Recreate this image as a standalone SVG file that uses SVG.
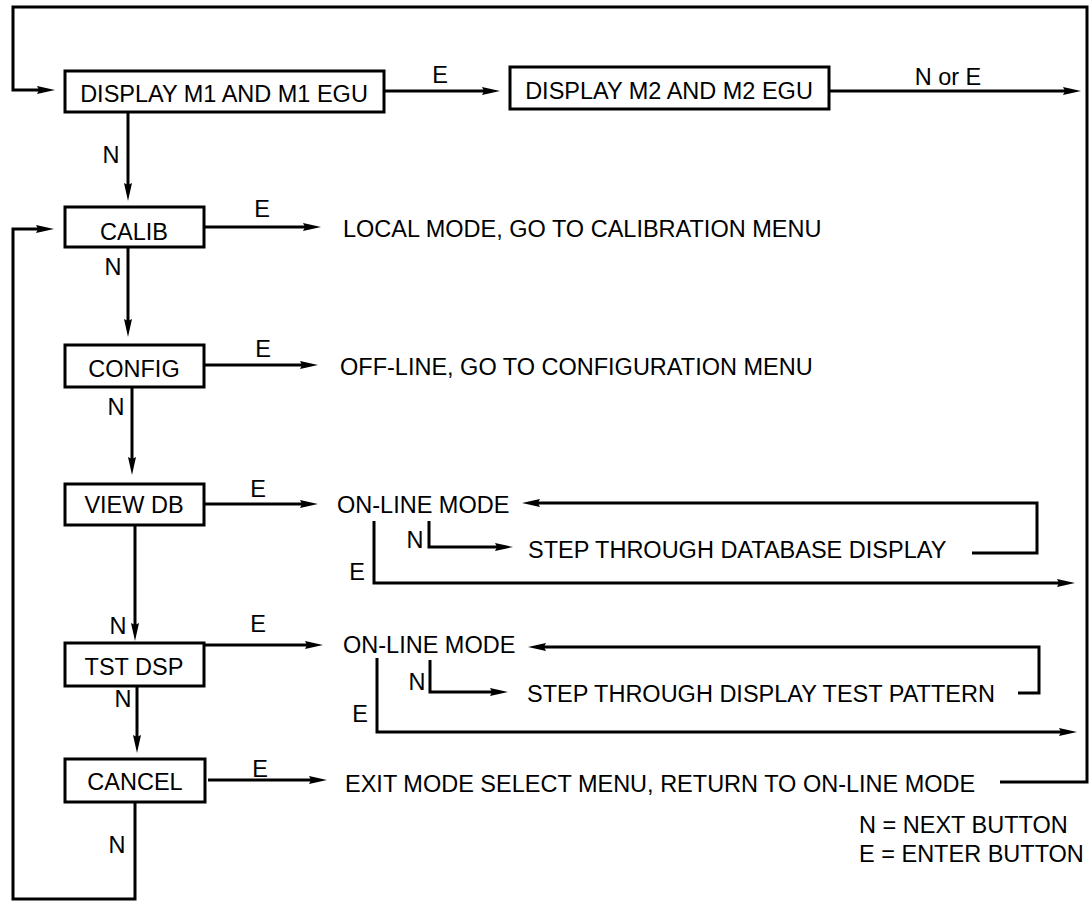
<svg xmlns="http://www.w3.org/2000/svg" width="1091" height="903" viewBox="0 0 1091 903">
<style>
text{font-family:"Liberation Sans",Arial,sans-serif;font-size:23.5px;fill:#000}
.m{text-anchor:middle}
.box{fill:#fff;stroke:#000;stroke-width:3}
.c{fill:none;stroke:#000;stroke-width:3;stroke-linejoin:miter}
.a{marker-end:url(#ah)}
</style>
<defs>
<marker id="ah" markerUnits="userSpaceOnUse" markerWidth="20" markerHeight="10" refX="2" refY="4" orient="auto" overflow="visible">
<path d="M0,0 L18,4 L0,8 L2,4 Z" fill="#000"/>
</marker>
</defs>
<rect width="1091" height="903" fill="#fff"/>
<g id="connectors">
<path class="c a" d="M1000,782 H1087 V7 H13 V90 H39"/>
<path class="c a" d="M384,91 H484"/>
<path class="c a" d="M829,91 H1065"/>
<path class="c a" d="M128,112 V185"/>
<path class="c a" d="M204,227 H305"/>
<path class="c a" d="M128,247 V321"/>
<path class="c a" d="M204,365 H302"/>
<path class="c a" d="M132,387 V459"/>
<path class="c a" d="M202,504 H302"/>
<path class="c a" d="M135,525 V625"/>
<path class="c a" d="M374,521 V583 H1059"/>
<path class="c a" d="M429,521 V547 H497"/>
<path class="c a" d="M972,553 H1037 V503 H538"/>
<path class="c a" d="M204,645 H307"/>
<path class="c a" d="M137,686 V737"/>
<path class="c a" d="M377,658 V732 H1061"/>
<path class="c a" d="M430,660 V692 H492"/>
<path class="c a" d="M1018,693 H1039 V647 H544"/>
<path class="c a" d="M208,780 H311"/>
<path class="c a" d="M135,802 V899 H13 V229 H38"/>
<text class="m" x="440" y="83">E</text>
<text class="m" x="948" y="85">N or E</text>
<text class="m" x="111" y="163">N</text>
<text class="m" x="262" y="217">E</text>
<text class="m" x="113" y="275">N</text>
<text class="m" x="263" y="357">E</text>
<text class="m" x="116" y="415">N</text>
<text class="m" x="258" y="497">E</text>
<text class="m" x="118" y="634">N</text>
<text class="m" x="415" y="548">N</text>
<text class="m" x="357" y="580">E</text>
<text class="m" x="258" y="632">E</text>
<text class="m" x="417" y="690">N</text>
<text class="m" x="360" y="722">E</text>
<text class="m" x="123" y="707">N</text>
<text class="m" x="260" y="777">E</text>
<text class="m" x="117" y="853">N</text>
</g>
<g id="display-m1">
<rect class="box" x="65" y="71" width="319" height="41"/>
<text class="m" x="224" y="102">DISPLAY M1 AND M1 EGU</text>
</g>
<g id="display-m2">
<rect class="box" x="510" y="67" width="319" height="42"/>
<text class="m" x="669" y="99">DISPLAY M2 AND M2 EGU</text>
</g>
<g id="calib">
<rect class="box" x="65" y="207" width="139" height="40"/>
<text class="m" x="134" y="240">CALIB</text>
</g>
<g id="local-mode">
<text x="343" y="237">LOCAL MODE, GO TO CALIBRATION MENU</text>
</g>
<g id="config">
<rect class="box" x="65" y="345" width="139" height="42"/>
<text class="m" x="134" y="377">CONFIG</text>
</g>
<g id="off-line">
<text x="340" y="375">OFF-LINE, GO TO CONFIGURATION MENU</text>
</g>
<g id="view-db">
<rect class="box" x="65" y="484" width="139" height="41"/>
<text class="m" x="134" y="513">VIEW DB</text>
</g>
<g id="on-line-1">
<text x="337" y="513">ON-LINE MODE</text>
</g>
<g id="step-db">
<text x="528" y="558">STEP THROUGH DATABASE DISPLAY</text>
</g>
<g id="tst-dsp">
<rect class="box" x="65" y="643" width="139" height="43"/>
<text class="m" x="134" y="675">TST DSP</text>
</g>
<g id="on-line-2">
<text x="343" y="653">ON-LINE MODE</text>
</g>
<g id="step-test">
<text x="527" y="702">STEP THROUGH DISPLAY TEST PATTERN</text>
</g>
<g id="cancel">
<rect class="box" x="65" y="759" width="140" height="43"/>
<text class="m" x="135" y="790">CANCEL</text>
</g>
<g id="exit">
<text x="345" y="792">EXIT MODE SELECT MENU, RETURN TO ON-LINE MODE</text>
</g>
<g id="legend">
<text x="859" y="833">N = NEXT BUTTON</text>
<text x="859" y="862">E = ENTER BUTTON</text>
</g>
</svg>
